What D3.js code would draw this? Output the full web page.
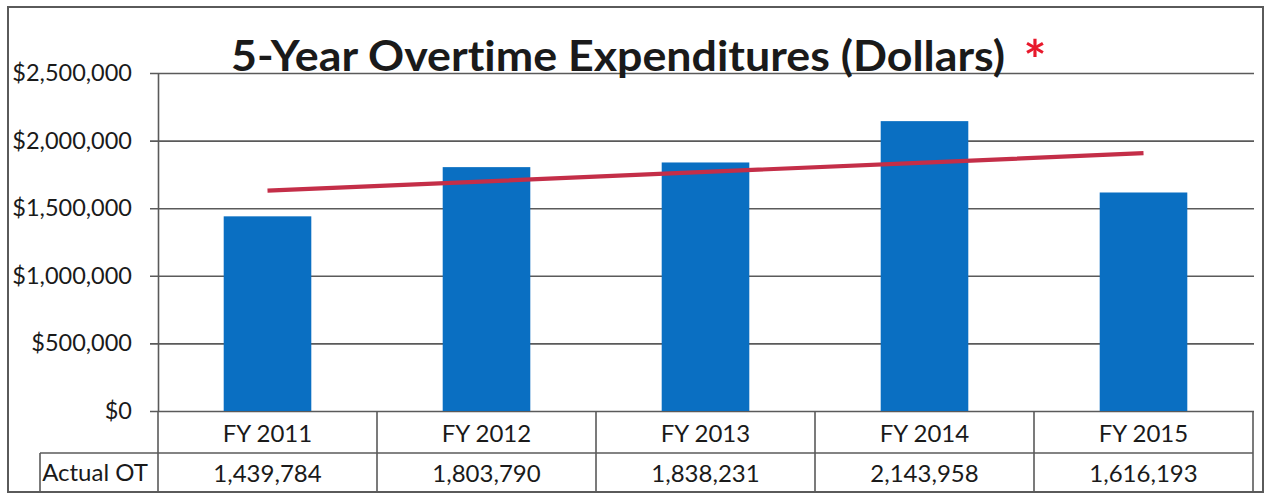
<!DOCTYPE html>
<html>
<head>
<meta charset="utf-8">
<script src="https://cdn.jsdelivr.net/npm/d3@7"></script>
<style>
  html, body { margin: 0; padding: 0; background: #fff; }
  svg { display: block; }
  text { font-family: Lato, "Open Sans", sans-serif; fill: #1a1a1a; font-variant-ligatures: none; }
</style>
</head>
<body>
<svg id="chart" width="1265" height="494"></svg>
<script>
const categories = ["FY 2011", "FY 2012", "FY 2013", "FY 2014", "FY 2015"];
const actualOT = [1439784, 1803790, 1838231, 2143958, 1616193];
const yTicks = [0, 500000, 1000000, 1500000, 2000000, 2500000];
const titleText = "5-Year Overtime Expenditures (Dollars)";
const rowLabel = "Actual OT";

const svg = d3.select("#chart");
const plotLeft = 158, plotRight = 1253, plotTop = 73, plotBottom = 411;
const row1Bottom = 453, row2Bottom = 492;
const lineColor = "#5a5a5a";

// outer border
svg.append("rect").attr("x", 8).attr("y", 7).attr("width", 1255).attr("height", 485)
  .attr("fill", "none").attr("stroke", lineColor).attr("stroke-width", 2);

const x = d3.scaleBand().domain(categories).range([plotLeft, plotRight])
  .paddingInner(0.6).paddingOuter(0.3);
const xCell = d3.scaleBand().domain(categories).range([plotLeft, plotRight]);
const y = d3.scaleLinear().domain([0, 2500000]).range([plotBottom, plotTop]);

// y axis with gridlines
const fmt = v => "$" + d3.format(",")(v);
const yAxis = d3.axisLeft(y).tickValues(yTicks).tickFormat(fmt)
  .tickSizeInner(-(plotRight + 1 - plotLeft)).tickSizeOuter(0).tickPadding(26);
const gy = svg.append("g").attr("transform", `translate(${plotLeft},0)`).call(yAxis);
gy.select(".domain").attr("stroke", lineColor).attr("stroke-width", 1.6);
gy.selectAll(".tick line").attr("x1", -8).attr("stroke", lineColor).attr("stroke-width", 1.6);
gy.selectAll(".tick text").attr("font-size", 23.5).attr("fill", "#1a1a1a")
  .style("font-family", "Lato, 'Open Sans', sans-serif");

// bars
svg.append("g").selectAll("rect").data(actualOT).join("rect")
  .attr("x", (d, i) => x(categories[i]))
  .attr("y", d => y(d))
  .attr("width", x.bandwidth())
  .attr("height", d => y(0) - y(d))
  .attr("fill", "#0a6fc2");

// linear trendline (least squares over the series)
const n = actualOT.length;
const xs = d3.range(1, n + 1);
const mx = d3.mean(xs), my = d3.mean(actualOT);
const slope = d3.sum(xs, (v, i) => (v - mx) * (actualOT[i] - my)) / d3.sum(xs, v => (v - mx) ** 2);
const icpt = my - slope * mx;
const trend = categories.map((c, i) => ({ c, v: icpt + slope * (i + 1) }));
svg.append("path").datum(trend)
  .attr("fill", "none").attr("stroke", "#c42e48").attr("stroke-width", 4.2)
  .attr("d", d3.line().x(d => x(d.c) + x.bandwidth() / 2).y(d => y(d.v)));

// title
svg.append("text").attr("x", 231).attr("y", 71)
  .attr("font-size", 42).attr("font-weight", 700)
  .attr("textLength", 774).attr("lengthAdjust", "spacingAndGlyphs")
  .text(titleText);
svg.append("text").attr("x", 1035).attr("y", 79).attr("text-anchor", "middle")
  .attr("font-size", 54).attr("font-weight", 700).style("fill", "#e8192c").text("*");

// data table
const tg = svg.append("g");
tg.append("line").attr("x1", 40).attr("x2", plotRight).attr("y1", row1Bottom).attr("y2", row1Bottom)
  .attr("stroke", lineColor).attr("stroke-width", 1.6);
const vxs = categories.map(c => xCell(c)).concat([plotRight]);
tg.selectAll("line.v").data(vxs).join("line").attr("class", "v")
  .attr("x1", d => d).attr("x2", d => d).attr("y1", plotBottom).attr("y2", row2Bottom)
  .attr("stroke", lineColor).attr("stroke-width", 1.6);
tg.append("line").attr("x1", 40).attr("x2", 40).attr("y1", row1Bottom).attr("y2", row2Bottom)
  .attr("stroke", lineColor).attr("stroke-width", 1.6);
tg.selectAll("text.cat").data(categories).join("text").attr("class", "cat")
  .attr("x", d => xCell(d) + xCell.bandwidth() / 2).attr("y", 442)
  .attr("text-anchor", "middle").attr("font-size", 24).text(d => d);
tg.selectAll("text.val").data(actualOT).join("text").attr("class", "val")
  .attr("x", (d, i) => xCell(categories[i]) + xCell.bandwidth() / 2).attr("y", 482)
  .attr("text-anchor", "middle").attr("font-size", 24).text(d => d3.format(",")(d));
tg.append("text").attr("x", 95).attr("y", 481).attr("text-anchor", "middle")
  .attr("font-size", 24).text(rowLabel);
</script>
</body>
</html>
